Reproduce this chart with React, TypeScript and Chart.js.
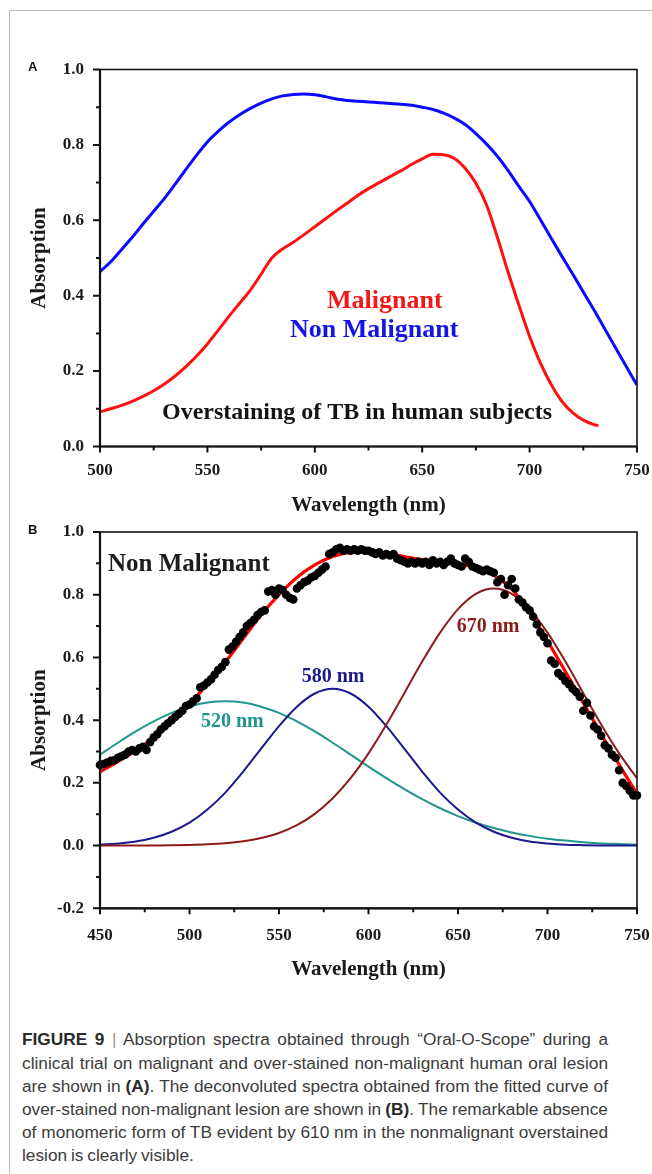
import React, { useEffect, useRef } from "react";
import { Chart, registerables } from "chart.js";

Chart.register(...registerables);

// ---------- Panel A data ----------
const wavelengthA = [
  500, 505, 510, 515, 520, 525, 530, 535, 540, 545, 550, 555, 560, 565, 570, 575, 580,
  585, 590, 595, 600, 605, 610, 615, 620, 625, 630, 635, 640, 645, 650, 655, 660, 665,
  670, 675, 680, 685, 690, 695, 700, 705, 710, 715, 720, 725, 730, 735, 740, 745, 750,
];
const nonMalignantA = [
  0.464, 0.49, 0.522, 0.555, 0.59, 0.624, 0.658, 0.696, 0.735, 0.773, 0.808, 0.836, 0.86,
  0.88, 0.897, 0.911, 0.922, 0.93, 0.934, 0.935, 0.933, 0.928, 0.922, 0.918, 0.916, 0.914,
  0.912, 0.91, 0.908, 0.905, 0.9, 0.894, 0.884, 0.871, 0.854, 0.83, 0.802, 0.77, 0.732,
  0.69, 0.65, 0.602, 0.553, 0.505, 0.458, 0.41, 0.362, 0.312, 0.262, 0.212, 0.163,
];
const malignantWavelengthA = [
  500, 505, 510, 515, 520, 525, 530, 535, 540, 545, 550, 555, 560, 565, 570, 575, 580,
  585, 590, 595, 600, 605, 610, 615, 620, 625, 630, 635, 640, 645, 650, 655, 660, 665,
  670, 675, 680, 685, 690, 695, 700, 705, 710, 715, 720, 725, 730, 732,
];
const malignantA = [
  0.092, 0.1, 0.109, 0.12, 0.133, 0.148, 0.166, 0.187, 0.212, 0.24, 0.272, 0.308, 0.345,
  0.38, 0.415, 0.457, 0.5, 0.524, 0.542, 0.562, 0.583, 0.604, 0.625, 0.645, 0.666, 0.684,
  0.7, 0.716, 0.731, 0.748, 0.763, 0.775, 0.774, 0.764, 0.738, 0.698, 0.64, 0.555, 0.462,
  0.375, 0.292, 0.222, 0.165, 0.12, 0.09, 0.07, 0.058, 0.055,
];
const xTickLabelsA = ["500", "550", "600", "650", "700", "750"];
const yTickLabelsA = ["0.0", "0.2", "0.4", "0.6", "0.8", "1.0"];

// ---------- Panel B data ----------
const wavelengthB = [
  450, 460, 470, 480, 490, 500, 510, 520, 530, 540, 550, 560, 570, 580, 590, 600, 610,
  620, 630, 640, 650, 660, 670, 680, 690, 700, 710, 720, 730, 740, 750,
];
const fittedB = [
  0.235, 0.268, 0.303, 0.345, 0.395, 0.452, 0.515, 0.585, 0.66, 0.735, 0.8, 0.855, 0.895,
  0.922, 0.935, 0.937, 0.932, 0.922, 0.912, 0.905, 0.898, 0.886, 0.862, 0.818, 0.745,
  0.652, 0.555, 0.455, 0.355, 0.258, 0.165,
];
const peak520 = [
  0.29, 0.328, 0.364, 0.396, 0.423, 0.443, 0.456, 0.46, 0.456, 0.443, 0.423, 0.396, 0.364,
  0.328, 0.29, 0.252, 0.215, 0.18, 0.148, 0.119, 0.094, 0.073, 0.056, 0.042, 0.031, 0.022,
  0.016, 0.011, 0.007, 0.005, 0.003,
];
const peak580 = [
  0.003, 0.007, 0.013, 0.025, 0.044, 0.073, 0.115, 0.169, 0.236, 0.309, 0.381, 0.443,
  0.485, 0.5, 0.485, 0.443, 0.381, 0.309, 0.236, 0.169, 0.115, 0.073, 0.044, 0.025, 0.013,
  0.007, 0.003, 0.0014, 0.0006, 0.0002, 0.0001,
];
const peak670 = [
  0.0, 0.0001, 0.0002, 0.0005, 0.001, 0.002, 0.0039, 0.0074, 0.0136, 0.024, 0.04, 0.065,
  0.101, 0.151, 0.215, 0.294, 0.386, 0.486, 0.587, 0.679, 0.754, 0.803, 0.82, 0.803, 0.754,
  0.679, 0.587, 0.486, 0.386, 0.294, 0.215,
];
const measuredXB = [
  450, 452, 454, 456, 458, 460, 462, 464, 466, 468,
  470, 472, 474, 476, 478, 480, 482, 484, 486, 488,
  490, 492, 494, 496, 498, 500, 502, 504, 506, 508,
  510, 512, 514, 516, 518, 520, 522, 524, 526, 528,
  530, 532, 534, 536, 538, 540, 542, 544, 546, 548,
  550, 552, 554, 556, 558, 560, 562, 564, 566, 568,
  570, 572, 574, 576, 578, 580, 582, 584, 586, 588,
  590, 592, 594, 596, 598, 600, 602, 604, 606, 608,
  610, 612, 614, 616, 618, 620, 622, 624, 626, 628,
  630, 632, 634, 636, 638, 640, 642, 644, 646, 648,
  650, 652, 654, 656, 658, 660, 662, 664, 666, 668,
  670, 672, 674, 676, 678, 680, 682, 684, 686, 688,
  690, 692, 694, 696, 698, 700, 702, 704, 706, 708,
  710, 712, 714, 716, 718, 720, 722, 724, 726, 728,
  730, 732, 734, 736, 738, 740, 742, 744, 746, 748,
  750,
];
const measuredYB = [
  0.257, 0.26, 0.265, 0.27, 0.272, 0.28, 0.285, 0.29, 0.3, 0.305,
  0.3, 0.31, 0.315, 0.305, 0.33, 0.345, 0.355, 0.37, 0.38, 0.39,
  0.4, 0.41, 0.42, 0.43, 0.445, 0.45, 0.46, 0.47, 0.505, 0.51,
  0.52, 0.53, 0.545, 0.56, 0.57, 0.585, 0.625, 0.635, 0.65, 0.665,
  0.68, 0.7, 0.71, 0.72, 0.735, 0.745, 0.75, 0.81, 0.815, 0.8,
  0.82, 0.815, 0.8, 0.79, 0.785, 0.82, 0.83, 0.84, 0.845, 0.855,
  0.86, 0.87, 0.88, 0.89, 0.93, 0.935, 0.945, 0.95, 0.94, 0.945,
  0.94, 0.945, 0.94, 0.945, 0.94, 0.94, 0.935, 0.93, 0.935, 0.925,
  0.93, 0.925, 0.93, 0.915, 0.91, 0.905, 0.9, 0.905, 0.9, 0.905,
  0.9, 0.905, 0.895, 0.91, 0.9, 0.905, 0.895, 0.905, 0.915, 0.9,
  0.895, 0.89, 0.915, 0.905, 0.89, 0.885, 0.88, 0.875, 0.88, 0.875,
  0.87, 0.84, 0.85, 0.8, 0.83, 0.85, 0.82, 0.785, 0.775, 0.76,
  0.75, 0.73, 0.705, 0.68, 0.665, 0.645, 0.59, 0.58, 0.55, 0.54,
  0.525, 0.515, 0.5, 0.49, 0.475, 0.43, 0.455, 0.415, 0.38, 0.37,
  0.35, 0.32, 0.31, 0.29, 0.28, 0.24, 0.2, 0.19, 0.175, 0.16,
  0.16,
];
const xTickLabelsB = ["450", "500", "550", "600", "650", "700", "750"];
const yTickLabelsB = ["-0.2", "0.0", "0.2", "0.4", "0.6", "0.8", "1.0"];

const SERIF = '"Liberation Serif", "Times New Roman", serif';

const pts = (xs: number[], ys: number[]) => xs.map((x, i) => ({ x, y: ys[i] }));

type TextItem = { text: string; x: number; y: number; size: number; color: string };

function makeTextPlugin(items: TextItem[]) {
  return {
    id: "texts",
    afterDatasetsDraw(chart: any) {
      const ctx = chart.ctx;
      ctx.save();
      items.forEach((it) => {
        ctx.font = `bold ${it.size}px ${SERIF}`;
        ctx.fillStyle = it.color;
        ctx.textAlign = "left";
        ctx.textBaseline = "alphabetic";
        ctx.fillText(it.text, it.x, it.y);
      });
      ctx.restore();
    },
  };
}

const frameTicksPlugin = {
  id: "frameTicks",
  afterDraw(chart: any) {
    const { ctx, chartArea: a } = chart;
    const xs = chart.scales.x;
    const ys = chart.scales.y;
    ctx.save();
    ctx.strokeStyle = "#111";
    ctx.lineWidth = 1.6;
    ctx.strokeRect(a.left, a.top, a.right - a.left, a.bottom - a.top);
    ctx.lineWidth = 2.2;
    ctx.beginPath();
    ctx.moveTo(a.left, a.top);
    ctx.lineTo(a.left, a.bottom);
    ctx.lineTo(a.right, a.bottom);
    ctx.stroke();
    ctx.lineWidth = 2;
    ctx.beginPath();
    xs.ticks.forEach((t: any, i: number) => {
      const p = xs.getPixelForValue(t.value);
      const len = i % 2 === 0 ? 6 : 4;
      ctx.moveTo(p, a.bottom);
      ctx.lineTo(p, a.bottom + len);
    });
    ys.ticks.forEach((t: any, i: number) => {
      const p = ys.getPixelForValue(t.value);
      const len = i % 2 === 0 ? 7 : 4;
      ctx.moveTo(a.left, p);
      ctx.lineTo(a.left - len, p);
    });
    ctx.stroke();
    ctx.restore();
  },
};

function buildScales(opts: {
  xmin: number; xmax: number; ymin: number; ymax: number;
  xLabels: string[]; yLabels: string[];
  xHeight: number; xPad: number; xTitlePad: number;
}) {
  const tickFont = { family: SERIF, size: 17, weight: "bold" as const };
  const titleFont = { family: SERIF, size: 21, weight: "bold" as const };
  return {
    x: {
      type: "linear" as const,
      min: opts.xmin,
      max: opts.xmax,
      grid: { display: false, drawTicks: false },
      border: { display: false },
      ticks: {
        stepSize: 25,
        autoSkip: false,
        maxRotation: 0,
        padding: opts.xPad,
        color: "#1a1a1a",
        font: tickFont,
        callback: (_v: any, i: number) => (i % 2 === 0 ? opts.xLabels[i / 2] : ""),
      },
      title: {
        display: true,
        text: "Wavelength (nm)",
        color: "#1a1a1a",
        font: titleFont,
        padding: { top: 0, bottom: opts.xTitlePad },
      },
      afterFit: (s: any) => {
        s.height = opts.xHeight;
        s.paddingLeft = 0;
        s.paddingRight = 0;
      },
    },
    y: {
      type: "linear" as const,
      min: opts.ymin,
      max: opts.ymax,
      grid: { display: false, drawTicks: false },
      border: { display: false },
      ticks: {
        stepSize: 0.1,
        autoSkip: false,
        padding: 16,
        color: "#1a1a1a",
        font: tickFont,
        callback: (_v: any, i: number) => (i % 2 === 0 ? opts.yLabels[i / 2] : ""),
      },
      title: {
        display: true,
        text: "Absorption",
        color: "#1a1a1a",
        font: titleFont,
        padding: { top: 27.4, bottom: 0 },
      },
      afterFit: (s: any) => {
        s.width = 100;
        s.paddingTop = 0;
        s.paddingBottom = 0;
      },
    },
  };
}

function ChartA() {
  const ref = useRef<HTMLCanvasElement>(null);
  useEffect(() => {
    const chart = new Chart(ref.current as HTMLCanvasElement, {
      type: "line",
      data: {
        datasets: [
          {
            label: "Malignant",
            data: pts(malignantWavelengthA, malignantA),
            borderColor: "#ff1010",
            borderWidth: 3,
            pointRadius: 0,
            cubicInterpolationMode: "monotone",
          },
          {
            label: "Non Malignant",
            data: pts(wavelengthA, nonMalignantA),
            borderColor: "#0a0aff",
            borderWidth: 3,
            pointRadius: 0,
            cubicInterpolationMode: "monotone",
          },
        ],
      },
      options: {
        animation: false,
        responsive: false,
        parsing: false as any,
        layout: { padding: { left: 0, top: 69.5, right: 15, bottom: 0 } },
        plugins: { legend: { display: false }, tooltip: { enabled: false } },
        scales: buildScales({
          xmin: 500, xmax: 750, ymin: 0, ymax: 1,
          xLabels: xTickLabelsA, yLabels: yTickLabelsA,
          xHeight: 83.5, xPad: 14, xTitlePad: 11.4,
        }) as any,
      },
      plugins: [
        frameTicksPlugin,
        makeTextPlugin([
          { text: "Malignant", x: 327, y: 308, size: 26, color: "#f01818" },
          { text: "Non Malignant", x: 290, y: 337, size: 26, color: "#1414e6" },
          { text: "Overstaining of TB in human subjects", x: 162, y: 419, size: 24, color: "#141414" },
        ]),
      ],
    } as any);
    return () => chart.destroy();
  }, []);
  return <canvas ref={ref} width={652} height={530} style={{ display: "block" }} />;
}

function ChartB() {
  const ref = useRef<HTMLCanvasElement>(null);
  useEffect(() => {
    const chart = new Chart(ref.current as HTMLCanvasElement, {
      type: "line",
      data: {
        datasets: [
          {
            label: "Measured",
            data: pts(measuredXB, measuredYB),
            showLine: false,
            pointRadius: 4.3,
            pointBackgroundColor: "#000",
            pointBorderColor: "#000",
            pointBorderWidth: 0,
            clip: false,
          },
          {
            label: "Fit",
            data: pts(wavelengthB, fittedB),
            borderColor: "#ff0000",
            borderWidth: 3.2,
            pointRadius: 0,
            cubicInterpolationMode: "monotone",
          },
          {
            label: "670 nm",
            data: pts(wavelengthB, peak670),
            borderColor: "#8c1c1c",
            borderWidth: 2,
            pointRadius: 0,
            cubicInterpolationMode: "monotone",
          },
          {
            label: "580 nm",
            data: pts(wavelengthB, peak580),
            borderColor: "#1a1a8e",
            borderWidth: 2,
            pointRadius: 0,
            cubicInterpolationMode: "monotone",
          },
          {
            label: "520 nm",
            data: pts(wavelengthB, peak520),
            borderColor: "#1f968a",
            borderWidth: 2,
            pointRadius: 0,
            cubicInterpolationMode: "monotone",
          },
        ],
      },
      options: {
        animation: false,
        responsive: false,
        parsing: false as any,
        layout: { padding: { left: 0, top: 52, right: 15, bottom: 0 } },
        plugins: { legend: { display: false }, tooltip: { enabled: false } },
        scales: buildScales({
          xmin: 450, xmax: 750, ymin: -0.2, ymax: 1,
          xLabels: xTickLabelsB, yLabels: yTickLabelsB,
          xHeight: 81.7, xPad: 17, xTitlePad: 7.4,
        }) as any,
      },
      plugins: [
        frameTicksPlugin,
        makeTextPlugin([
          { text: "Non Malignant", x: 108, y: 90.7, size: 25, color: "#1c1c1c" },
          { text: "520 nm", x: 201, y: 246.7, size: 20, color: "#1f968a" },
          { text: "580 nm", x: 301.7, y: 201.7, size: 20, color: "#1a1a8e" },
          { text: "670 nm", x: 456.7, y: 151.7, size: 20, color: "#8c1c1c" },
        ]),
      ],
    } as any);
    return () => chart.destroy();
  }, []);
  return <canvas ref={ref} width={652} height={510} style={{ display: "block" }} />;
}

const captionLines: React.ReactNode[] = [
  <>
    <b style={{ color: "#2a2a2a" }}>FIGURE 9</b> <span style={{ color: "#999" }}>|</span> Absorption spectra obtained through “Oral-O-Scope” during a
  </>,
  <>clinical trial on malignant and over-stained non-malignant human oral lesion</>,
  <>
    are shown in <b style={{ color: "#2a2a2a" }}>(A)</b>. The deconvoluted spectra obtained from the fitted curve of
  </>,
  <>
    over-stained non-malignant lesion are shown in <b style={{ color: "#2a2a2a" }}>(B)</b>. The remarkable absence
  </>,
  <>of monomeric form of TB evident by 610 nm in the nonmalignant overstained</>,
  <>lesion is clearly visible.</>,
];

export default function App() {
  return (
    <div
      style={{
        position: "absolute",
        left: 0,
        top: 0,
        width: 652,
        height: 1174,
        overflow: "hidden",
        background: "#fff",
      }}
    >
      <div
        style={{
          position: "absolute",
          left: 9,
          top: 10,
          width: 700,
          height: 1200,
          borderLeft: "1px solid #bdbdbd",
          borderTop: "1px solid #bdbdbd",
        }}
      />
      <div style={{ position: "absolute", left: 0, top: 0 }}>
        <ChartA />
      </div>
      <div style={{ position: "absolute", left: 0, top: 480 }}>
        <ChartB />
      </div>
      <div
        style={{
          position: "absolute",
          left: 28,
          top: 60,
          font: 'bold 13px/13px "Liberation Sans", Arial, sans-serif',
          color: "#111",
        }}
      >
        A
      </div>
      <div
        style={{
          position: "absolute",
          left: 28,
          top: 523,
          font: 'bold 13px/13px "Liberation Sans", Arial, sans-serif',
          color: "#111",
        }}
      >
        B
      </div>
      <div
        style={{
          position: "absolute",
          left: 22,
          top: 1028.4,
          width: 586,
          font: '17.3px/23.2px "Liberation Sans", Arial, sans-serif',
          wordSpacing: "-1px",
          color: "#3c3c3c",
        }}
      >
        {captionLines.map((l, i) => (
          <div
            key={i}
            style={{
              whiteSpace: "nowrap",
              textAlign: i === captionLines.length - 1 ? "left" : "justify",
              textAlignLast: i === captionLines.length - 1 ? "left" : "justify",
              height: 23.2,
            }}
          >
            {l}
          </div>
        ))}
      </div>
    </div>
  );
}
